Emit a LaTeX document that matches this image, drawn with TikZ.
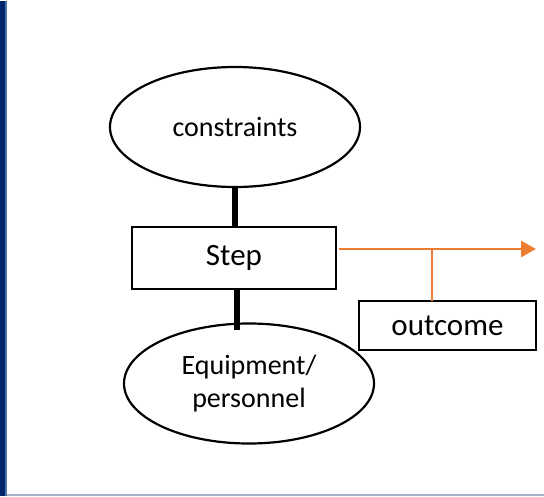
\documentclass[tikz,border=0pt]{standalone}
\usepackage{fontspec}
\setmainfont{Carlito}
\usetikzlibrary{shapes.geometric,arrows.meta}
\definecolor{navyC}{HTML}{002469}
\definecolor{lightnavyC}{HTML}{4A72A6}
\definecolor{grayline}{HTML}{A3B3C8}
\definecolor{orangeC}{HTML}{ED7D31}
\begin{document}
\begin{tikzpicture}[x=1pt,y=-1pt,
  oval/.style={draw,ellipse,line width=2.2pt,minimum width=250pt,minimum height=120pt,inner sep=0pt,align=center},
  box/.style={draw,rectangle,line width=2.2pt,inner sep=0pt},
  thicklink/.style={line width=6pt},
  orangelink/.style={draw=orangeC,line width=2.8pt},
  smalltext/.style={font=\fontsize{28}{33}\selectfont},
  bigtext/.style={font=\fontsize{31}{36}\selectfont}]
\useasboundingbox (0,0) rectangle (544,496);
\fill[white] (0,0) rectangle (544,496);
\fill[navyC] (0,1) rectangle (5,496);
\fill[lightnavyC] (5,1) rectangle (7.3,496);
\draw[grayline,line width=1.5pt] (7.3,495.2) -- (544,495.2);
\node[oval,smalltext] (c) at (235,127) {constraints};
\node[box,bigtext,minimum width=204pt,minimum height=62pt] (s) at (234,258) {Step};
\node[oval,smalltext] (e) at (249,383.5) {Equipment/\\personnel};
\node[box,bigtext,minimum width=177pt,minimum height=49pt] (o) at (447.5,325.5) {outcome};
\coordinate (ca) at (235,186);
\coordinate (sa) at (235,228);
\coordinate (sb) at (237,288);
\coordinate (eb) at (237,330);
\draw[thicklink] (ca) -- (sa);
\draw[thicklink] (sb) -- (eb);
\coordinate (a) at (339,249);
\coordinate (tip) at (536,249);
\coordinate (j) at (432,249);
\coordinate (jo) at (432,301);
\draw[orangelink,-{Triangle[length=15pt,width=16pt]}] (a) -- (tip);
\draw[orangelink] (j) -- (jo);
\end{tikzpicture}
\end{document}
